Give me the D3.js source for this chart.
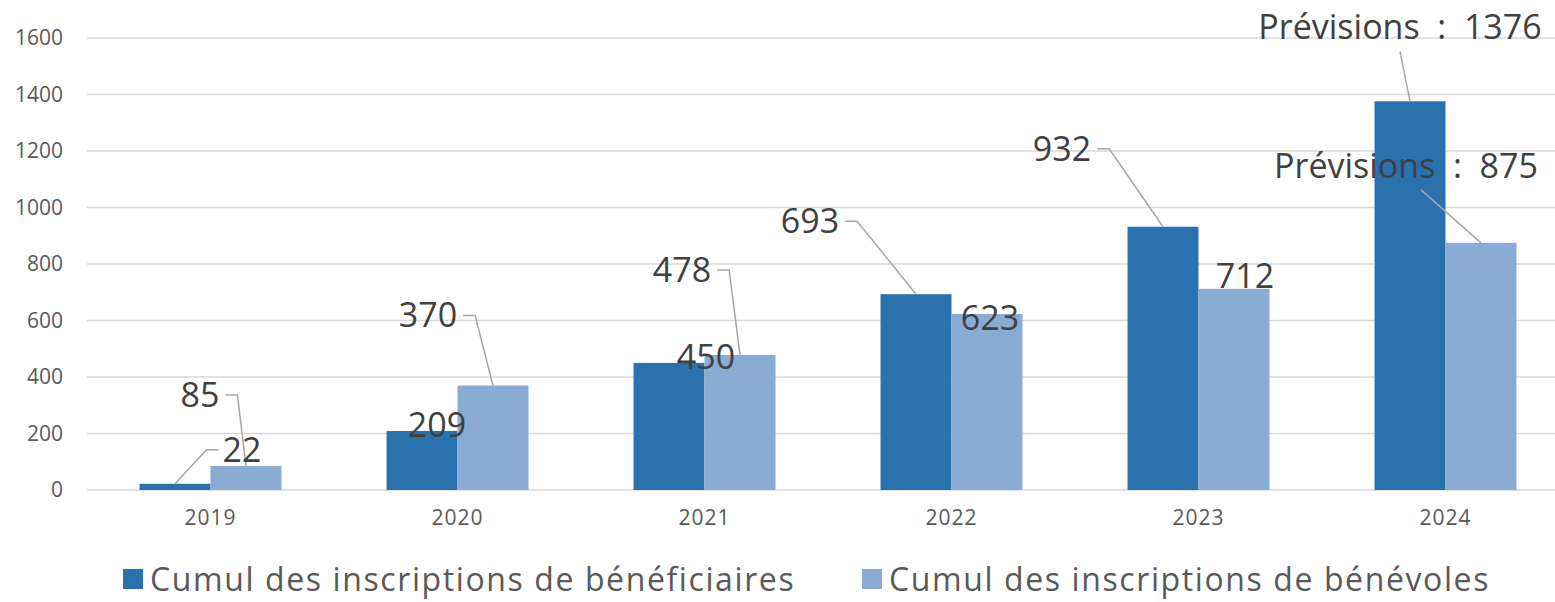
<!DOCTYPE html>
<html>
<head>
<meta charset="utf-8">
<script src="https://cdn.jsdelivr.net/npm/d3@7"></script>
<style>
  body { margin: 0; background: #fff; }
  svg { display: block; font-family: 'Open Sans', sans-serif; }
</style>
</head>
<body>
<svg width="1555" height="602"></svg>
<script>
// data
var years = ['2019', '2020', '2021', '2022', '2023', '2024'];
var seriesNames = ['Cumul des inscriptions de bénéficiaires', 'Cumul des inscriptions de bénévoles'];
var beneficiaires = [22, 209, 450, 693, 932, 1376];
var benevoles = [85, 370, 478, 623, 712, 875];
var labelPrefix = ['', '', '', '', '', 'Prévisions : '];
var yTicks = [0, 200, 400, 600, 800, 1000, 1200, 1400, 1600];

var colors = ['#2a72ad', '#8aabd4'];

// label placement relative to bar top (pixels) and leader style
var labelPos = [
    [[67, -34, 'left'], [-46, -71, 'right']],
    [[15, -6, null], [-65, -70, 'right']],
    [[37, -6, null], [-58, -85, 'right']],
    [[-106, -73, 'right'], [3, 4, null]],
    [[-101, -78, 'right'], [11, -13, null]],
    [[-10, -74, 'bottom'], [-75, -77, 'bottom']]
];

var svg = d3.select('svg');
var plot = { l: 87, r: 1569, t: 38, b: 490 };

var x0 = d3.scaleBand().domain(years).range([plot.l, plot.r]);
var x1 = d3.scaleBand().domain([0, 1]).range([0, x0.bandwidth()]).paddingOuter(0.74);
var y = d3.scaleLinear().domain([0, 1600]).range([plot.b, plot.t]);

// gridlines
svg.append('g')
    .selectAll('line')
    .data(yTicks)
    .enter()
    .append('line')
    .attr('x1', plot.l)
    .attr('x2', 1555)
    .attr('y1', d => y(d))
    .attr('y2', d => y(d))
    .attr('stroke', '#d9d9d9')
    .attr('stroke-width', 1.5);

// y axis labels
var yAxis = svg.append('g')
    .attr('transform', 'translate(' + (plot.l - 22) + ',0)')
    .call(d3.axisLeft(y).tickValues(yTicks).tickFormat(d3.format('d')).tickSize(0).tickPadding(2));
yAxis.select('.domain').remove();
yAxis.selectAll('text')
    .attr('fill', '#595959')
    .style('font-size', '21px')
    .style('font-family', 'Open Sans');

// x axis labels
var xAxis = svg.append('g')
    .attr('transform', 'translate(0,' + plot.b + ')')
    .call(d3.axisBottom(x0).tickSize(0).tickPadding(20));
xAxis.select('.domain').remove();
xAxis.selectAll('text')
    .attr('fill', '#595959')
    .style('font-size', '21px')
    .style('letter-spacing', '1px')
    .style('font-family', 'Open Sans');

var rows = years.map(function(yr, i) {
    return [
        { year: yr, s: 0, v: beneficiaires[i], i: i },
        { year: yr, s: 1, v: benevoles[i], i: i }
    ];
});
var flat = [].concat.apply([], rows);

// bars
svg.append('g')
    .selectAll('rect')
    .data(flat)
    .enter()
    .append('rect')
    .attr('x', d => x0(d.year) + x1(d.s))
    .attr('y', d => y(d.v))
    .attr('width', x1.bandwidth())
    .attr('height', d => plot.b - y(d.v))
    .attr('fill', d => colors[d.s]);

// data labels + leader lines
var labelG = svg.append('g');
var leaderG = svg.append('g');
flat.forEach(function(d) {
    var pos = labelPos[d.i][d.s];
    var bx = x0(d.year) + x1(d.s) + x1.bandwidth() / 2;
    var by = y(d.v);
    var cx = bx + pos[0], cy = by + pos[1];
    var t = labelG.append('text')
        .attr('x', cx)
        .attr('y', cy)
        .attr('dy', '0.35em')
        .attr('text-anchor', 'middle')
        .attr('fill', '#404040')
        .style('font-size', '34px')
        .style('white-space', 'pre')
        .text(labelPrefix[d.i] ? labelPrefix[d.i].replace(' : ', '  :  ') + d.v : String(d.v));
    var w = t.node().getComputedTextLength();
    var pts = null;
    if (pos[2] === 'right') {
        pts = [[cx + w / 2 + 6, cy], [cx + w / 2 + 18, cy], [bx, by]];
    } else if (pos[2] === 'left') {
        pts = [[cx - w / 2 - 4, cy], [cx - w / 2 - 16, cy], [bx, by]];
    } else if (pos[2] === 'bottom') {
        pts = [[cx + (bx > cx + 40 ? 15 : 0), cy + 24], [bx, by]];
    }
    if (pts) {
        leaderG.append('path')
            .attr('d', d3.line()(pts))
            .attr('fill', 'none')
            .attr('stroke', '#a6a6a6')
            .attr('stroke-width', 1.5);
    }
});
labelG.raise();

// legend
var legend = svg.append('g').attr('transform', 'translate(0,580)');
var lx = [123, 862];
seriesNames.forEach(function(name, i) {
    legend.append('rect')
        .attr('x', lx[i])
        .attr('y', -11)
        .attr('width', 20)
        .attr('height', 20)
        .attr('fill', colors[i]);
    legend.append('text')
        .attr('x', lx[i] + 27)
        .attr('y', 0)
        .attr('dy', '0.35em')
        .attr('fill', '#595959')
        .style('font-size', '32px')
        .style('letter-spacing', '1.6px')
        .text(name);
});
</script>
</body>
</html>
